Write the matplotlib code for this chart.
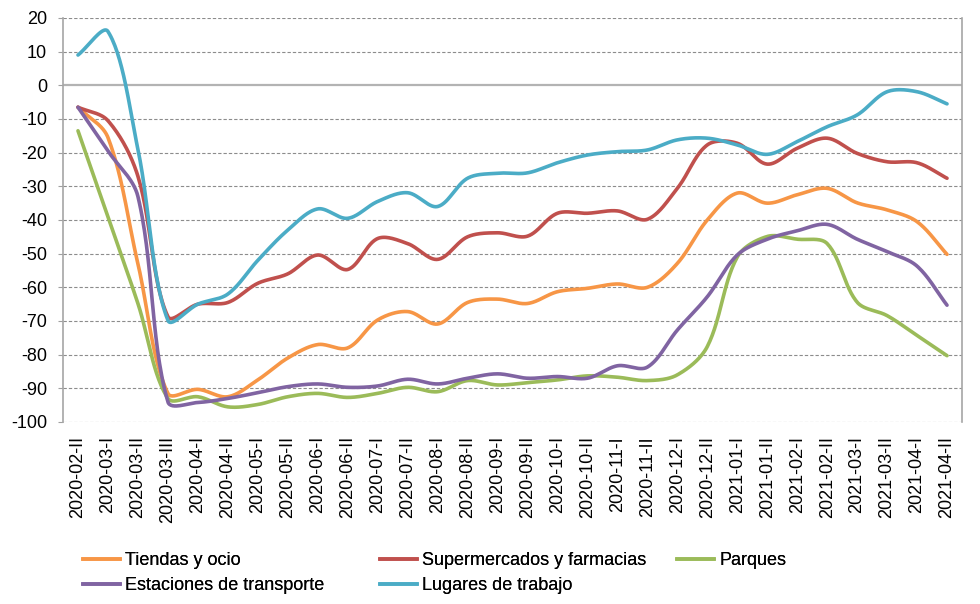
import numpy as np
import matplotlib
matplotlib.use("Agg")
import matplotlib.pyplot as plt
from matplotlib.lines import Line2D

plt.rcParams["font.family"] = ["Liberation Sans", "DejaVu Sans"]
plt.rcParams["axes.unicode_minus"] = False

categories = ["2020-02-II", "2020-03-I", "2020-03-II", "2020-03-III", "2020-04-I",
              "2020-04-II", "2020-05-I", "2020-05-II", "2020-06-I", "2020-06-II",
              "2020-07-I", "2020-07-II", "2020-08-I", "2020-08-II", "2020-09-I",
              "2020-09-II", "2020-10-I", "2020-10-II", "2020-11-I", "2020-11-II",
              "2020-12-I", "2020-12-II", "2021-01-I", "2021-01-II", "2021-02-I",
              "2021-02-II", "2021-03-I", "2021-03-II", "2021-04-I", "2021-04-II"]

tiendas = [-6.5, -15.5, -53, -91.5, -90.3, -92.5, -87.5, -81, -77, -78,
           -69.7, -67.2, -70.9, -64.5, -63.5, -64.8, -61.3, -60.3, -59, -60,
           -52.9, -40, -32, -35, -32.5, -30.6, -34.9, -37, -40.5, -50.2]
supermercados = [-6.5, -10.5, -27, -68.7, -65, -64.5, -58.8, -56, -50.4, -54.7,
                 -45.5, -47, -51.7, -45, -43.8, -44.8, -38, -38, -37.3, -39.8,
                 -30.6, -17.7, -17.2, -23.4, -18.7, -15.7, -20.2, -22.7, -23, -27.6]
parques = [-13.5, -39, -64.8, -93, -92.5, -95.5, -94.8, -92.5, -91.5, -92.7,
           -91.5, -89.7, -91, -87.7, -89, -88.3, -87.5, -86.3, -86.7, -87.7,
           -86, -77.6, -51, -44.9, -45.7, -47, -64.4, -68.4, -74.3, -80.3]
estaciones = [-6.5, -19.5, -33, -94, -94.2, -93, -91.3, -89.5, -88.7, -89.7,
              -89.3, -87.3, -88.7, -87, -85.7, -87, -86.5, -87, -83.3, -83.7,
              -72.7, -62.8, -50.4, -45.7, -43.2, -41.3, -45.7, -49.4, -53.7, -65.3]
lugares = [9, 16, -19, -69.8, -65, -62, -52, -43, -36.7, -39.5,
           -34.5, -31.9, -36, -27.6, -26.1, -26, -23, -20.7, -19.7, -19.2,
           -16.2, -15.7, -17.7, -20.5, -16.7, -12.3, -8.8, -1.9, -1.9, -5.5]

series_names = ["Tiendas y ocio", "Supermercados y farmacias", "Parques",
                "Estaciones de transporte", "Lugares de trabajo"]
series_values = [tiendas, supermercados, parques, estaciones, lugares]
colors = ["#F79646", "#C0504D", "#9BBB59", "#8064A2", "#4BACC6"]


def smooth(y, sx=30.0, sy=3.367, n=30):
    """Excel-like Bezier smoothing computed in display-like (pixel) space."""
    y = np.asarray(y, float)
    m = len(y)
    P = np.column_stack([np.arange(m) * sx, y * sy])
    t = np.linspace(0, 1, n, endpoint=False)[:, None]
    out = []
    f = 1.0 / 3.0
    for i in range(m - 1):
        Pm = P[i - 1] if i > 0 else P[i]
        Pp = P[i + 2] if i + 2 < m else P[i + 1]
        d0 = np.hypot(*(P[i] - Pm))
        d1 = np.hypot(*(P[i + 1] - P[i]))
        d2 = np.hypot(*(Pp - P[i + 1]))
        C1 = P[i] + (P[i + 1] - Pm) * f * d1 / (d0 + d1)
        C2 = P[i + 1] - (Pp - P[i]) * f * d1 / (d1 + d2)
        B = ((1 - t) ** 3) * P[i] + 3 * ((1 - t) ** 2) * t * C1 \
            + 3 * (1 - t) * t ** 2 * C2 + t ** 3 * P[i + 1]
        out.append(B)
    out.append(P[-1][None, :])
    B = np.vstack(out)
    return B[:, 0] / sx, B[:, 1] / sy


fig = plt.figure(figsize=(9.8, 6.04), dpi=100)
ax = fig.add_axes([63 / 980, (604 - 422) / 604, 899 / 980, 404 / 604])

x = np.arange(len(categories))
ax.set_xlim(-0.5, len(categories) - 0.5)
ax.set_ylim(-100, 20)
ax.set_yticks(np.arange(-100, 21, 10))
ax.set_xticks(x)
ax.set_xticklabels(categories, rotation=90, fontsize=13)
ax.tick_params(axis="x", length=0, pad=10)
ax.tick_params(axis="y", length=3.6, color="#A0A0A0", pad=8, labelsize=13,
               direction="out")

for v in np.arange(-100, 21, 10):
    if v == 0:
        ax.axhline(v, color="#B3B3B3", lw=1.6, zorder=1)
    else:
        ax.axhline(v, color="#8C8C8C", lw=0.8, ls=(0, (3, 1.8)), zorder=1)

for s in ["top", "bottom"]:
    ax.spines[s].set_visible(False)
for s in ["left", "right"]:
    ax.spines[s].set_color("#A6A6A6")
    ax.spines[s].set_linewidth(1.2)

handles = []
for name, vals, c in zip(series_names, series_values, colors):
    xs, ys = smooth(vals)
    ax.plot(xs, ys, color=c, lw=2.6, solid_capstyle="round", zorder=3)
    handles.append(Line2D([0], [0], color=c, lw=2.6))

cols = [[0, 3], [1, 4], [2]]
xpos = [0.085, 0.388, 0.691]
for ci, idxs in enumerate(cols):
    leg = fig.legend([handles[i] for i in idxs], [series_names[i] for i in idxs],
                     loc="upper left",
                     bbox_to_anchor=(xpos[ci], 1 - 552 / 604),
                     bbox_transform=fig.transFigure,
                     frameon=False, fontsize=13, handlelength=2.05,
                     handletextpad=0.28, labelspacing=0.45, borderaxespad=0,
                     borderpad=0)
    fig.add_artist(leg)

fig.savefig("out.png", dpi=100)
